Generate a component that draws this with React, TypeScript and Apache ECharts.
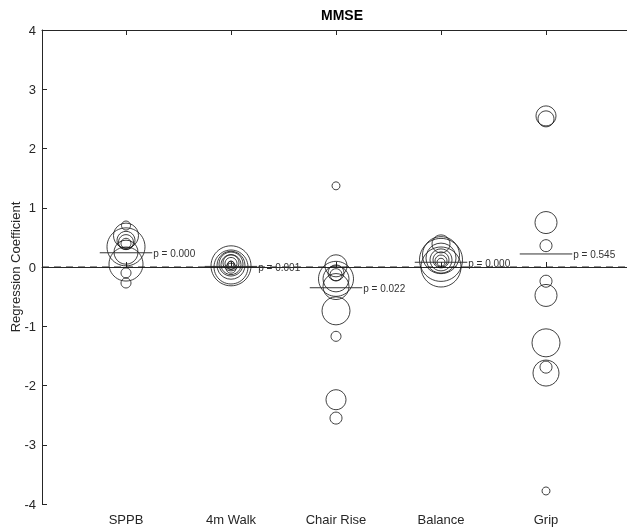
import React, { useEffect, useRef } from "react";
import * as echarts from "echarts";

const categories = ["SPPB", "4m Walk", "Chair Rise", "Balance", "Grip"];
const yTicks = [-4, -3, -2, -1, 0, 1, 2, 3, 4];
const xRange = [0.2, 5.8];

// coefficient values and bubble weights (diameter) per category
const sppbValues = [0.7, 0.53, 0.42, 0.4, 0.45, 0.34, 0.25, 0.05, -0.1, -0.27];
const sppbWeights = [9, 25, 15, 10, 18, 38, 24, 34, 10, 10];
const walkValues = [0.02, 0.0, 0.03, 0.05, 0.04, 0.07, 0.06, 0.03, -0.02, 0.05];
const walkWeights = [40, 34, 28, 24, 20, 16, 12, 8, 10, 6];
const chairValues = [1.37, 0.02, -0.13, -0.1, -0.2, -0.2, -0.33, -0.74, -1.17, -2.24, -2.55];
const chairWeights = [8, 22, 12, 16, 35, 26, 26, 28, 10, 20, 12];
const balanceValues = [0.39, 0.2, 0.12, 0.12, 0.12, 0.1, 0.08, 0.0, 0.15];
const balanceWeights = [18, 37, 43, 22, 16, 12, 8, 40, 30];
const gripValues = [2.55, 2.5, 0.75, 0.36, -0.24, -0.48, -1.28, -1.69, -1.79, -3.78];
const gripWeights = [20, 16, 22, 12, 12, 22, 28, 12, 26, 8];

const meanValues = [0.24, 0.01, -0.35, 0.08, 0.22];
const pLabels = ["p = 0.000", "p = 0.001", "p = 0.022", "p = 0.000", "p = 0.545"];
const referenceLevel = 0;

const groupValues = [sppbValues, walkValues, chairValues, balanceValues, gripValues];
const groupWeights = [sppbWeights, walkWeights, chairWeights, balanceWeights, gripWeights];

const FONT = "Liberation Sans, Arial, Helvetica, sans-serif";
const AX = "#262626";

export default function App() {
  const ref = useRef<HTMLDivElement>(null);
  useEffect(() => {
    if (!ref.current) return;
    const chart = echarts.init(ref.current, undefined, { renderer: "svg" });
    const scatterData: number[][] = [];
    groupValues.forEach((vals, gi) => {
      vals.forEach((v, i) => scatterData.push([gi + 1, v, groupWeights[gi][i]]));
    });
    const meanData = meanValues.map((m, i) => [i + 1, m]);
    const ticks = categories.map((_, i) => i + 1);

    chart.setOption({
      animation: false,
      textStyle: { fontFamily: FONT },
      title: {
        text: "MMSE",
        left: 337,
        top: 3,
        textAlign: "center",
        textStyle: { fontSize: 14, fontWeight: "bold", color: "#000", fontFamily: FONT },
      },
      grid: { left: 42, top: 30, width: 588, height: 474, outerBoundsMode: "none", containLabel: false },
      xAxis: [
        {
          type: "value",
          min: xRange[0],
          max: xRange[1],
          axisLine: { show: true, lineStyle: { color: AX, width: 1 } },
          axisTick: { show: true, inside: true, length: 5, customValues: ticks, lineStyle: { color: AX } },
          axisLabel: {
            show: true,
            customValues: ticks,
            formatter: (v: number) => categories[Math.round(v) - 1] ?? "",
            fontSize: 13,
            color: AX,
            margin: 9,
            fontFamily: FONT,
          },
          splitLine: { show: false },
        },
        {
          type: "value",
          position: "top",
          min: xRange[0],
          max: xRange[1],
          axisLine: { show: true, lineStyle: { color: AX, width: 1 } },
          axisTick: { show: true, inside: true, length: 5, customValues: ticks, lineStyle: { color: AX } },
          axisLabel: { show: false },
          splitLine: { show: false },
        },
      ],
      yAxis: {
        type: "value",
        min: -4,
        max: 4,
        interval: 1,
        name: "Regression Coefficient",
        nameLocation: "middle",
        nameGap: 20,
        nameMoveOverlap: false,
        nameTextStyle: { fontSize: 13, color: AX, fontFamily: FONT },
        axisLine: { show: true, lineStyle: { color: AX, width: 1 } },
        axisTick: { show: true, inside: true, length: 5, lineStyle: { color: AX } },
        axisLabel: {
          fontSize: 13,
          color: AX,
          margin: 6,
          fontFamily: FONT,
          formatter: (v: number) => (yTicks.includes(v) ? String(v) : ""),
        },
        splitLine: { show: false },
      },
      series: [
        {
          type: "line",
          xAxisIndex: 0,
          silent: true,
          data: [
            [xRange[0], referenceLevel],
            [xRange[1], referenceLevel],
          ],
          symbol: "none",
          lineStyle: { type: [7, 5], color: "#222", width: 1 },
          z: 1,
        },
        {
          type: "scatter",
          xAxisIndex: 0,
          silent: true,
          data: scatterData,
          symbol: "circle",
          symbolSize: (val: number[]) => val[2],
          itemStyle: { color: "rgba(0,0,0,0)", borderColor: "#111", borderWidth: 1 },
          emphasis: { disabled: true },
          z: 2,
        },
        {
          type: "custom",
          xAxisIndex: 0,
          silent: true,
          data: meanData,
          renderItem: (params: any, api: any) => {
            const x = api.value(0);
            const y = api.value(1);
            const p1 = api.coord([x - 0.25, y]);
            const p2 = api.coord([x + 0.25, y]);
            return {
              type: "group",
              children: [
                {
                  type: "line",
                  shape: { x1: p1[0], y1: p1[1], x2: p2[0], y2: p2[1] },
                  style: { stroke: "#333", lineWidth: 1 },
                },
                {
                  type: "text",
                  x: p2[0] + 1,
                  y: p2[1] + 1,
                  style: {
                    text: pLabels[params.dataIndex],
                    fontSize: 10,
                    fill: "#333",
                    align: "left",
                    verticalAlign: "middle",
                    fontFamily: FONT,
                  },
                },
              ],
            };
          },
          z: 3,
        },
      ],
    });
    return () => chart.dispose();
  }, []);
  return (
    <div
      ref={ref}
      style={{ position: "fixed", left: 0, top: 0, width: 627, height: 528 }}
    />
  );
}
